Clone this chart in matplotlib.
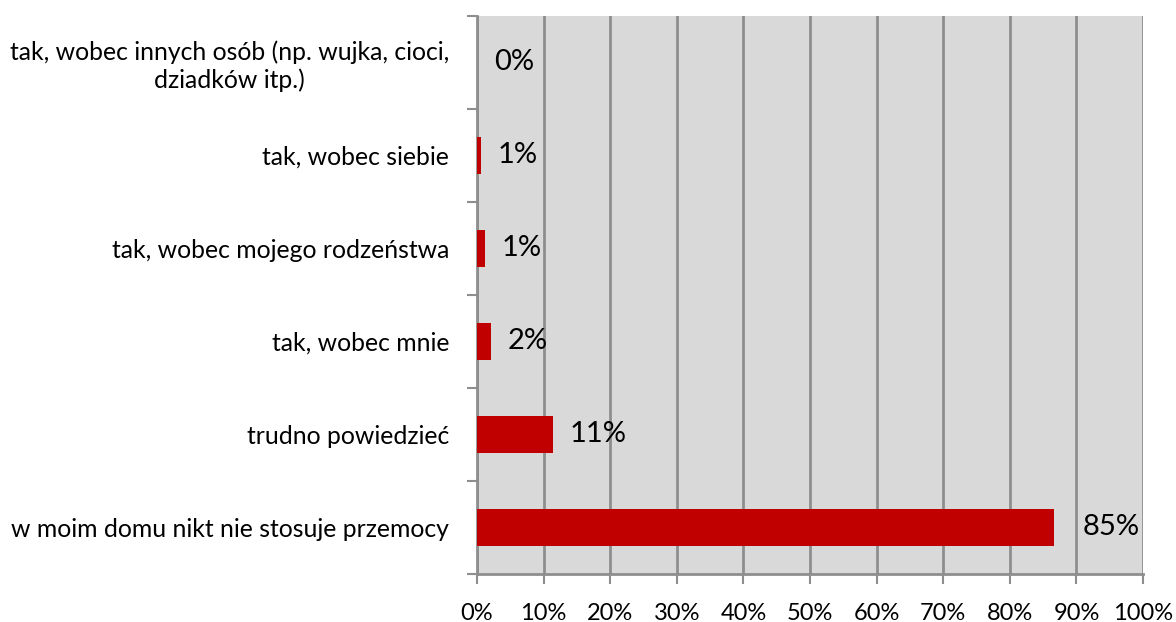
import matplotlib.pyplot as plt
import numpy as np

plt.rcParams['font.family'] = ['Lato', 'DejaVu Sans']

# categories from bottom to top
categories = [
    "w moim domu nikt nie stosuje przemocy",
    "trudno powiedzieć",
    "tak, wobec mnie",
    "tak, wobec mojego rodzeństwa",
    "tak, wobec siebie",
    "tak, wobec innych osób (np. wujka, cioci,\ndziadków itp.)",
]
values = [86.6, 11.4, 2.1, 1.25, 0.65, 0.0]
value_labels = ["85%", "11%", "2%", "1%", "1%", "0%"]
x_ticks = [0, 10, 20, 30, 40, 50, 60, 70, 80, 90, 100]

bar_color = "#c00000"
grid_color = "#8e8e8e"

fig = plt.figure(figsize=(11.76, 6.22), dpi=100)
ax = fig.add_axes([0.4056, 0.0772, 0.5664, 0.8971])
ax.set_facecolor("#d9d9d9")

y = np.arange(len(categories))
ax.barh(y, values, height=0.39, color=bar_color, zorder=3)

for i, (v, lab) in enumerate(zip(values, value_labels)):
    off = 21 if v > 50 else 12
    ax.annotate(lab, (v, i), xytext=(off, 0), textcoords="offset points",
                ha="left", va="center", fontsize=21, color="black", zorder=4)

ax.set_xlim(0, 100)
ax.set_ylim(-0.5, len(categories) - 0.5)
ax.set_xticks(x_ticks)
ax.set_xticklabels([f"{t}%" for t in x_ticks], fontsize=17)
ax.xaxis.grid(True, color=grid_color, linewidth=2, zorder=1)

# category labels between boundary ticks
ax.set_yticks(np.arange(-0.5, len(categories), 1.0))
ax.set_yticklabels([])
ax.set_yticks(y, minor=True)
ax.set_yticklabels(categories, minor=True, fontsize=17.8, ha="right",
                   multialignment="center")
ax.tick_params(axis="y", which="minor", length=0, pad=20)
ax.tick_params(axis="y", which="major", length=7, width=1.5, color=grid_color,
               direction="out")
ax.tick_params(axis="x", length=7, width=1.5, color=grid_color, pad=14)

for side in ["top", "right"]:
    ax.spines[side].set_visible(False)
for side in ["left", "bottom"]:
    ax.spines[side].set_color(grid_color)
    ax.spines[side].set_linewidth(2)

fig.savefig("out.png", dpi=100)
